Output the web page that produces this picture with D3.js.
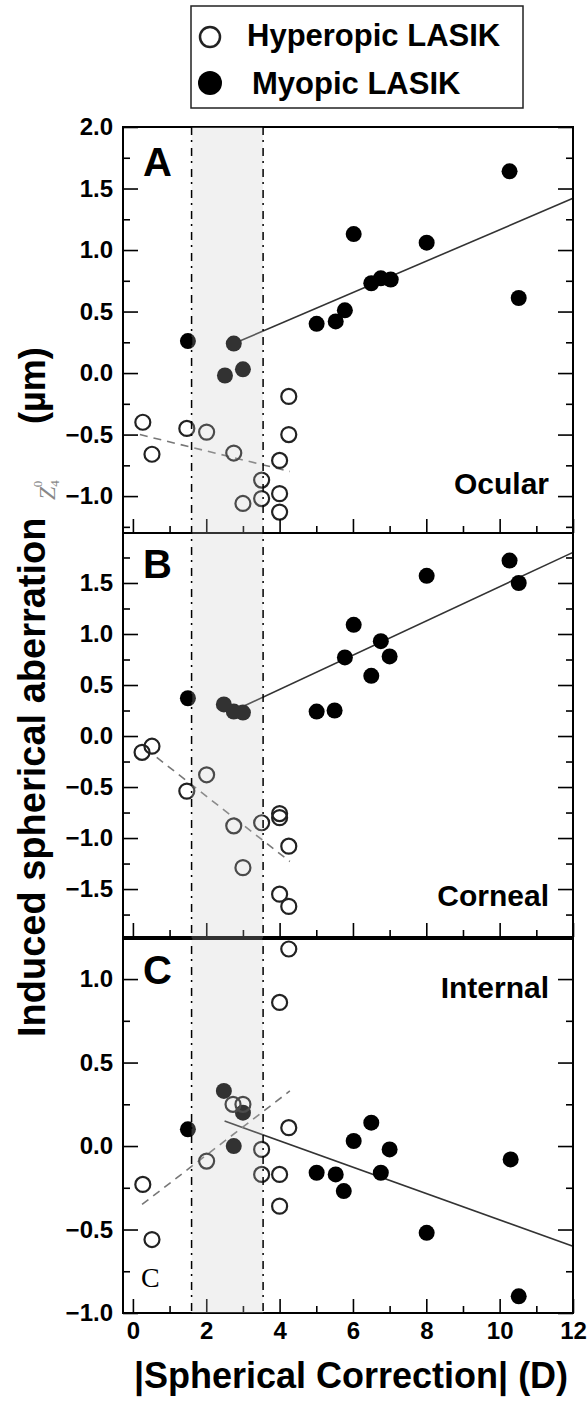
<!DOCTYPE html>
<html>
<head>
<meta charset="utf-8">
<script src="https://cdn.jsdelivr.net/npm/d3@7"></script>
<style>
  body { margin: 0; background: #fff; }
  text { font-family: 'Liberation Sans', Arial, sans-serif; }
</style>
</head>
<body>
<div id="chart"></div>
<script>
// x axis
let xTicks = [0, 2, 4, 6, 8, 10, 12]
let xMinorTicks = [1, 3, 5, 7, 9, 11]
let bandRange = [1.6, 3.55]

// panel A (ocular)
let hypAx = [0.27, 0.52, 1.47, 2.01, 2.75, 4.25, 4.25, 4.0, 3.51, 4.0, 3.51, 3.0, 4.0]
let hypAy = [-0.4, -0.66, -0.45, -0.48, -0.65, -0.19, -0.5, -0.71, -0.87, -0.98, -1.02, -1.06, -1.13]
let myoAx = [10.27, 6.02, 8.01, 6.5, 6.76, 7.03, 10.52, 5.78, 5.53, 5.01, 1.5, 2.75, 2.51, 3.0]
let myoAy = [1.64, 1.13, 1.06, 0.73, 0.77, 0.76, 0.61, 0.51, 0.42, 0.4, 0.26, 0.24, -0.02, 0.03]
let fitMyoA = [[2.75, 0.24], [12, 1.42]]
let fitHypA = [[0.19, -0.5], [4.28, -0.8]]

// panel B (corneal)
let hypBx = [0.25, 0.52, 1.47, 2.01, 2.75, 3.51, 4.0, 4.0, 4.25, 3.0, 4.0, 4.25]
let hypBy = [-0.16, -0.1, -0.54, -0.38, -0.88, -0.85, -0.76, -0.8, -1.08, -1.29, -1.55, -1.67]
let myoBx = [10.27, 8.01, 10.52, 6.02, 6.76, 5.78, 7.0, 6.5, 5.01, 5.5, 1.5, 2.48, 2.75, 3.0]
let myoBy = [1.72, 1.57, 1.5, 1.09, 0.93, 0.77, 0.78, 0.59, 0.24, 0.25, 0.37, 0.31, 0.24, 0.23]
let fitMyoB = [[3.0, 0.29], [12, 1.8]]
let fitHypB = [[0.65, -0.21], [4.28, -1.23]]

// panel C (internal)
let hypCx = [4.25, 4.0, 2.73, 3.0, 4.25, 3.51, 2.01, 0.27, 3.51, 4.0, 4.0, 0.52]
let hypCy = [1.18, 0.86, 0.25, 0.25, 0.11, -0.02, -0.09, -0.23, -0.17, -0.17, -0.36, -0.56]
let myoCx = [2.48, 3.0, 1.5, 6.5, 6.02, 7.0, 2.75, 5.01, 5.53, 5.75, 6.76, 10.3, 8.01, 10.52]
let myoCy = [0.33, 0.2, 0.1, 0.14, 0.03, -0.02, 0.0, -0.16, -0.17, -0.27, -0.16, -0.08, -0.52, -0.9]
let fitMyoC = [[2.5, 0.15], [12, -0.6]]
let fitHypC = [[0.25, -0.35], [4.28, 0.33]]

let yTicksA = [-1.0, -0.5, 0.0, 0.5, 1.0, 1.5, 2.0]
let yMinorA = [-1.25, -0.75, -0.25, 0.25, 0.75, 1.25, 1.75]
let yTicksB = [-1.5, -1.0, -0.5, 0.0, 0.5, 1.0, 1.5]
let yMinorB = [-1.75, -1.25, -0.75, -0.25, 0.25, 0.75, 1.25, 1.75]
let yTicksC = [-1.0, -0.5, 0.0, 0.5, 1.0]
let yMinorC = [-0.75, -0.25, 0.25, 0.75]

let panels = [
  { letter: 'A', name: 'Ocular', domain: [-1.3, 2.0], top: 127, bottom: 533,
    hx: hypAx, hy: hypAy, mx: myoAx, my: myoAy, fitM: fitMyoA, fitH: fitHypA,
    ticks: yTicksA, minor: yMinorA, nameY: 494 },
  { letter: 'B', name: 'Corneal', domain: [-1.97, 1.99], top: 533, bottom: 937,
    hx: hypBx, hy: hypBy, mx: myoBx, my: myoBy, fitM: fitMyoB, fitH: fitHypB,
    ticks: yTicksB, minor: yMinorB, nameY: 906 },
  { letter: 'C', name: 'Internal', domain: [-1.0, 1.24], top: 939, bottom: 1313,
    hx: hypCx, hy: hypCy, mx: myoCx, my: myoCy, fitM: fitMyoC, fitH: fitHypC,
    ticks: yTicksC, minor: yMinorC, nameY: 998 }
]

let left = 123
let right = 573

let svg = d3
  .select('#chart')
  .append('svg')
  .attr('width', 587)
  .attr('height', 1403)

let xPositionScale = d3.scaleLinear().domain([-0.27, 12]).range([left, right])

let line = d3
  .line()
  .x(d => xPositionScale(d[0]))

panels.forEach((p, i) => {
  let yPositionScale = d3.scaleLinear().domain(p.domain).range([p.bottom, p.top])
  line.y(d => yPositionScale(d[1]))

  let g = svg.append('g').attr('class', 'panel')

  // fit lines
  g.append('path')
    .attr('d', line(p.fitM))
    .attr('stroke', '#333')
    .attr('stroke-width', 1.6)
    .attr('fill', 'none')
  g.append('path')
    .attr('d', line(p.fitH))
    .attr('stroke', '#777')
    .attr('stroke-width', 1.6)
    .attr('stroke-dasharray', '8,6')
    .attr('fill', 'none')

  // points
  g.selectAll('.myo')
    .data(p.mx.map((x, j) => [x, p.my[j]]))
    .enter()
    .append('circle')
    .attr('class', 'myo')
    .attr('cx', d => xPositionScale(d[0]))
    .attr('cy', d => yPositionScale(d[1]))
    .attr('r', 8)
    .attr('fill', '#000')

  g.selectAll('.hyp')
    .data(p.hx.map((x, j) => [x, p.hy[j]]))
    .enter()
    .append('circle')
    .attr('class', 'hyp')
    .attr('cx', d => xPositionScale(d[0]))
    .attr('cy', d => yPositionScale(d[1]))
    .attr('r', 7.5)
    .attr('fill', 'none')
    .attr('stroke', '#222')
    .attr('stroke-width', 2.2)

  // y axes, ticks pointing inward
  let yAxis = d3.axisLeft(yPositionScale)
    .tickValues(p.ticks)
    .tickSize(-15)
    .tickPadding(10)
    .tickFormat(d3.format('.1f'))
  g.append('g')
    .attr('class', 'axis y-axis')
    .attr('transform', 'translate(' + left + ',0)')
    .call(yAxis)
  g.append('g')
    .attr('transform', 'translate(' + left + ',0)')
    .call(d3.axisLeft(yPositionScale).tickValues(p.minor).tickSize(-7).tickFormat(''))
  g.append('g')
    .attr('transform', 'translate(' + right + ',0)')
    .call(d3.axisRight(yPositionScale).tickValues(p.ticks).tickSize(-15).tickFormat(''))
  g.append('g')
    .attr('transform', 'translate(' + right + ',0)')
    .call(d3.axisRight(yPositionScale).tickValues(p.minor).tickSize(-7).tickFormat(''))

  // x axis ticks at bottom of each panel
  let xAxis = d3.axisBottom(xPositionScale)
    .tickValues(xTicks)
    .tickSize(-14)
    .tickPadding(9)
  if (i < 2) xAxis.tickFormat('')
  g.append('g')
    .attr('class', 'axis x-axis')
    .attr('transform', 'translate(0,' + p.bottom + ')')
    .call(xAxis)
  g.append('g')
    .attr('transform', 'translate(0,' + p.bottom + ')')
    .call(d3.axisBottom(xPositionScale).tickValues(xMinorTicks).tickSize(-7).tickFormat(''))

  // frame
  g.append('rect')
    .attr('x', left)
    .attr('y', p.top)
    .attr('width', right - left)
    .attr('height', p.bottom - p.top)
    .attr('fill', 'none')
    .attr('stroke', '#000')
    .attr('stroke-width', 2)

  g.append('text')
    .attr('x', 143)
    .attr('y', p.top + (i === 0 ? 49 : 45))
    .attr('font-size', 40)
    .attr('font-weight', 'bold')
    .text(p.letter)

  g.append('text')
    .attr('x', 549)
    .attr('y', p.nameY)
    .attr('text-anchor', 'end')
    .attr('font-size', 30)
    .attr('font-weight', 'bold')
    .text(p.name)
})

svg.selectAll('.axis path').remove()
svg.selectAll('.tick line').attr('stroke', '#000').attr('stroke-width', 1.6)
svg.selectAll('.axis text')
  .attr('font-size', 24)
  .attr('font-weight', 'bold')
  .attr('fill', '#000')
  .style('font-family', "'Liberation Sans', Arial, sans-serif")

// shaded band and dash-dot boundaries over all panels
svg.append('rect')
  .attr('x', xPositionScale(bandRange[0]))
  .attr('y', 127)
  .attr('width', xPositionScale(bandRange[1]) - xPositionScale(bandRange[0]))
  .attr('height', 1313 - 127)
  .attr('fill', '#c8c8c8')
  .attr('opacity', 0.25)

svg.selectAll('.band-edge')
  .data(bandRange)
  .enter()
  .append('line')
  .attr('class', 'band-edge')
  .attr('x1', d => xPositionScale(d))
  .attr('x2', d => xPositionScale(d))
  .attr('y1', 127)
  .attr('y2', 1313)
  .attr('stroke', '#000')
  .attr('stroke-width', 1.5)
  .attr('stroke-dasharray', '8,5,2,6')

// stray serif letter in panel C
svg.append('text')
  .attr('x', 141)
  .attr('y', 1287)
  .attr('font-size', 28)
  .style('font-family', "'Liberation Serif', serif")
  .text('C')

// x title
svg.append('text')
  .attr('x', 351)
  .attr('y', 1388)
  .attr('text-anchor', 'middle')
  .attr('font-size', 36)
  .attr('font-weight', 'bold')
  .text('|Spherical Correction| (D)')

// y title
svg.append('text')
  .attr('transform', 'translate(45,1037) rotate(-90)')
  .attr('font-size', 38)
  .attr('font-weight', 'bold')
  .text('Induced spherical aberration')

let z = svg.append('text')
  .attr('transform', 'translate(55,500) rotate(-90)')
  .attr('fill', '#888')
  .style('font-family', "'Liberation Serif', serif")
z.append('tspan').attr('font-size', 24).attr('font-style', 'italic').text('Z')
z.append('tspan').attr('font-size', 13).attr('dy', 4).text('4')
z.append('tspan').attr('font-size', 13).attr('dx', -7).attr('dy', -17).text('0')

svg.append('text')
  .attr('transform', 'translate(45,424) rotate(-90)')
  .attr('font-size', 36)
  .attr('font-weight', 'bold')
  .text('(µm)')

// legend
let legend = svg.append('g')
legend.append('rect')
  .attr('x', 191)
  .attr('y', 6)
  .attr('width', 332)
  .attr('height', 102)
  .attr('fill', '#fff')
  .attr('stroke', '#222')
  .attr('stroke-width', 1.5)
legend.append('circle')
  .attr('cx', 210)
  .attr('cy', 37)
  .attr('r', 10)
  .attr('fill', 'none')
  .attr('stroke', '#222')
  .attr('stroke-width', 2.5)
legend.append('circle')
  .attr('cx', 210)
  .attr('cy', 83)
  .attr('r', 12)
  .attr('fill', '#000')
legend.append('text')
  .attr('x', 247)
  .attr('y', 46)
  .attr('font-size', 31)
  .attr('font-weight', 'bold')
  .text('Hyperopic LASIK')
legend.append('text')
  .attr('x', 252)
  .attr('y', 94)
  .attr('font-size', 31)
  .attr('font-weight', 'bold')
  .text('Myopic LASIK')
</script>
</body>
</html>
